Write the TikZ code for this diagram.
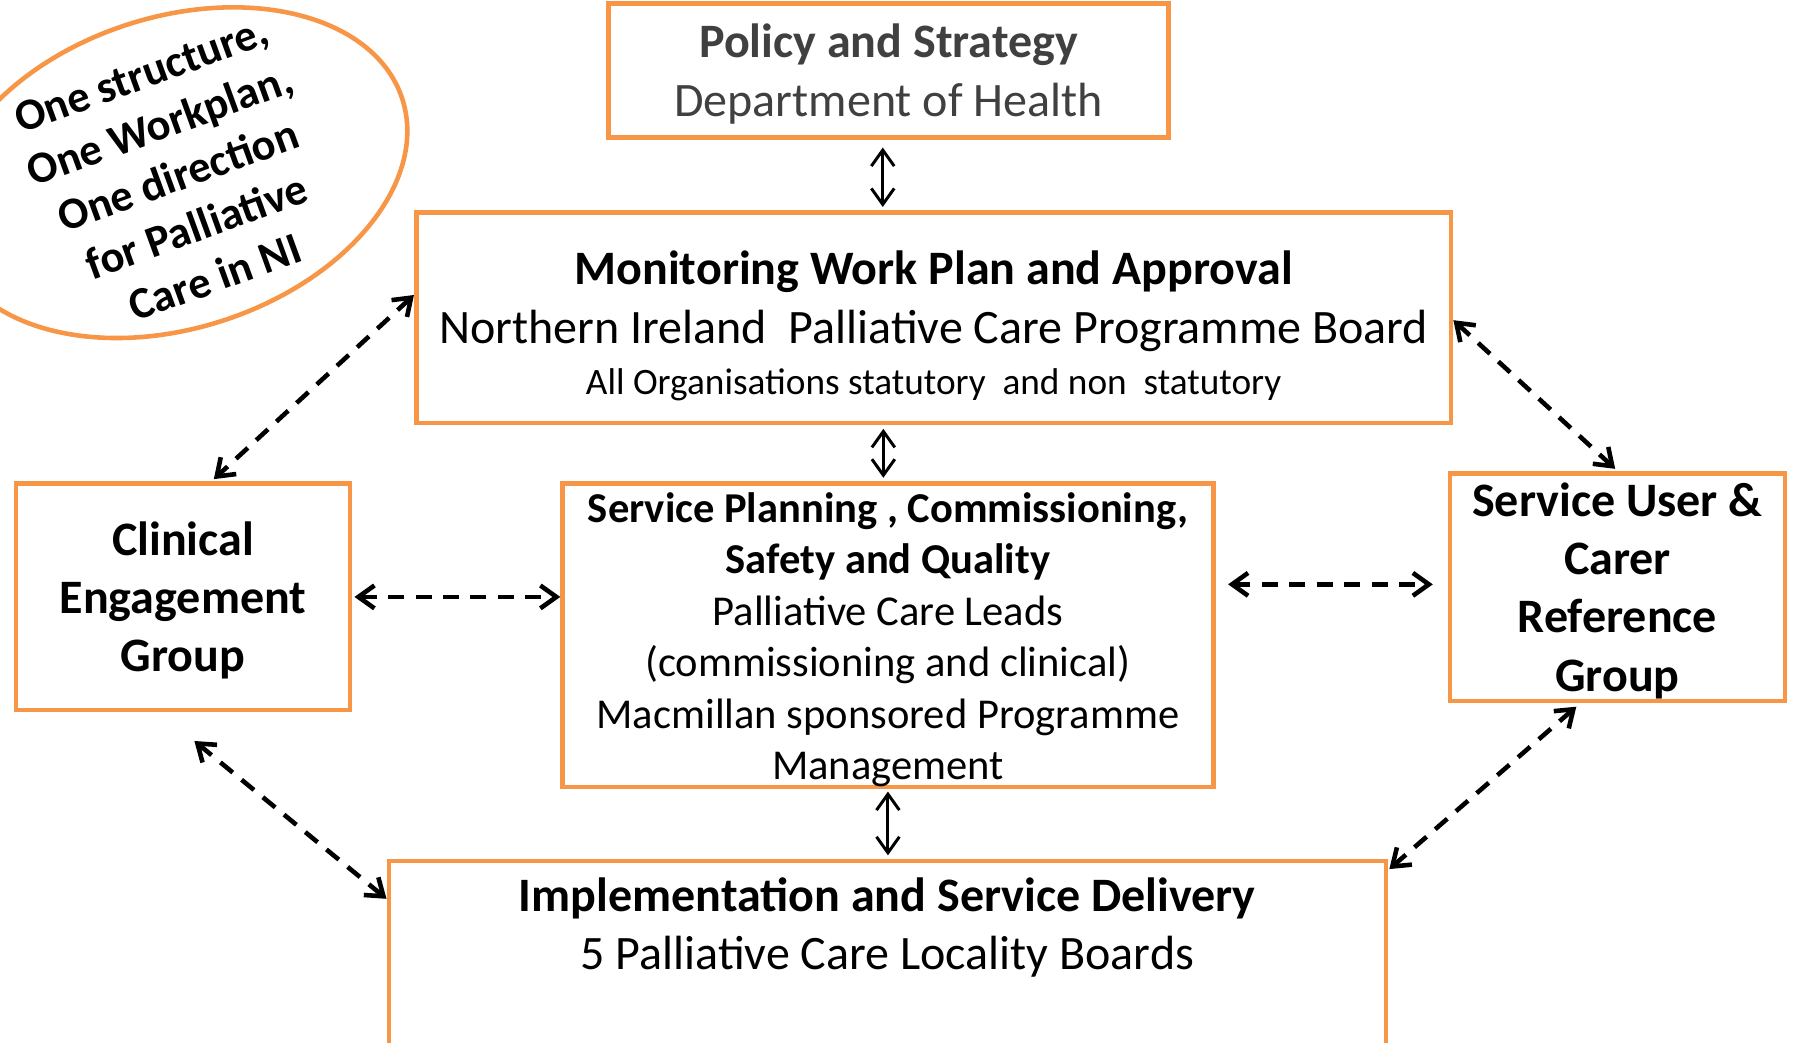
\documentclass[tikz,border=0pt]{standalone}
\usepackage{fontspec}
\setmainfont{Carlito}
\usepackage{tikz}
\usetikzlibrary{arrows.meta,positioning}
\definecolor{boxorange}{HTML}{F79646}
\definecolor{policygrey}{HTML}{404040}
\newcommand{\boxfont}{\fontsize{21}{25.5}\selectfont}
\newcommand{\planfont}{\fontsize{18.6}{22.5}\selectfont}
\newcommand{\notefont}{\fontsize{16.3}{19}\selectfont}
\newcommand{\mottofont}{\fontsize{19.5}{23.6}\selectfont\bfseries}
\tikzstyle{boxy} = [rectangle, draw=boxorange, line width=2pt, inner sep=0pt,
align=center, font=\boxfont]
\tikzstyle{mottoline} = [draw=boxorange, line width=2pt]
\tikzstyle{arrow} = [line width=1.3pt,<->,>={Straight Barb[length=7pt,width=10pt]}]
\tikzstyle{arrowdashed} = [line width=2pt,dash pattern=on 7pt off 5pt,<->,
>={Straight Barb[length=7pt,width=10pt]}]

\begin{document}
\begin{tikzpicture}[x=0.5pt,y=-0.5pt]
        \useasboundingbox (0,0) rectangle (1568,912);
        \node (policy) [boxy,minimum width=245pt,minimum height=58.5pt,text=policygrey] at (777,61.5)
        {\strut\textbf{Policy and Strategy}\\Department of Health};
        \node (monitor) [boxy,minimum width=452.5pt,minimum height=92pt] at (816.5,278)
        {\rule{0pt}{22pt}\textbf{Monitoring Work Plan and Approval}\\Northern Ireland~~Palliative Care Programme Board\\[-3pt]
        {\notefont All Organisations statutory~~and non~~statutory}};
        \node (plan) [boxy,minimum width=284.5pt,minimum height=132.5pt,font=\planfont] at (776.5,555.5)
        {\rule{0pt}{17pt}\textbf{Service Planning , Commissioning,}\\\textbf{Safety and Quality}\\Palliative Care Leads\\
        (commissioning and clinical)\\Macmillan sponsored Programme\\Management};
        \node (clinical) [boxy,minimum width=146pt,minimum height=99pt,font=\boxfont\bfseries] at (160,522)
        {\strut Clinical\\Engagement\\Group};
        \node (user) [boxy,minimum width=146.5pt,minimum height=99.5pt,font=\boxfont\bfseries] at (1414.5,513.5)
        {\strut Service User \&\\Carer\\Reference\\Group};
        \node (impl) [boxy,minimum width=436pt,anchor=north] at (776,751)
        {\parbox[c][118pt][t]{430pt}{\centering\rule{0pt}{22pt}\textbf{Implementation and Service Delivery}\\
        5 Palliative Care Locality Boards}};
        \node (motto) [rotate=20,align=center,font=\mottofont] at (156,154)
        {One structure,\\One Workplan,\\One direction\\for Palliative\\Care in NI};
        \draw [mottoline, rotate around={18:(153,151)}] (153,151) ellipse [x radius=104.5pt, y radius=68pt];
        %
        \draw [arrow] ([xshift=-2.5pt,yshift=-3.5pt]policy.south) -- ([xshift=-2.5pt,yshift=1.5pt]policy.south |- monitor.north);
        \draw [arrow] ([xshift=-2pt,yshift=-1.5pt]plan.north |- monitor.south) -- ([xshift=-2pt,yshift=1.5pt]plan.north);
        \draw [arrow] ([yshift=-1pt]plan.south) -- ([yshift=1.5pt]plan.south |- impl.north);
        \draw [arrowdashed] ([yshift=10pt]monitor.west) -- ([xshift=13.5pt,yshift=1pt]clinical.north);
        \draw [arrowdashed] ([yshift=-1pt]monitor.east) -- ([xshift=-1pt,yshift=1pt]user.north);
        \draw [arrowdashed] ([xshift=1pt]clinical.east) -- (clinical.east -| plan.west);
        \draw [arrowdashed] ([xshift=5.5pt,yshift=1.25pt]user.west -| plan.east) -- ([xshift=-6.5pt,yshift=1.25pt]user.west);
        \draw [arrowdashed] ([xshift=5pt,yshift=-12.5pt]clinical.south) -- ([yshift=-17.5pt]impl.north west);
        \draw [arrowdashed] ([xshift=-18pt,yshift=-1.5pt]user.south) -- ([xshift=0.5pt,yshift=-4.5pt]impl.north east);
\end{tikzpicture}
\end{document}
